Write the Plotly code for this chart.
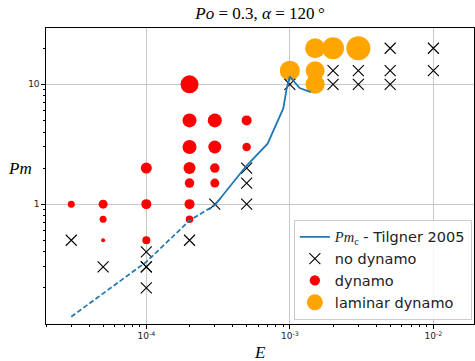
import numpy as np
import plotly.graph_objects as go

# ---------------- data ----------------
# dynamo runs (red)
dyn_E = [3e-5, 5e-5, 5e-5, 5e-5, 1e-4, 1e-4, 1e-4,
         2e-4, 2e-4, 2e-4, 2e-4, 2e-4, 2e-4, 2e-4,
         3e-4, 3e-4, 3e-4, 3e-4, 5e-4, 5e-4]
dyn_Pm = [1.0, 1.0, 0.75, 0.5, 2.0, 1.0, 0.5,
          10.0, 5.0, 3.0, 2.0, 1.5, 1.0, 0.75,
          5.0, 3.0, 2.0, 1.5, 5.0, 3.0]
dyn_size = [7, 9, 7, 4, 11, 10, 8,
            18, 14, 14, 12, 9.5, 10, 7.5,
            14, 13, 9.5, 9, 10, 8.5]

# no dynamo runs (crosses)
nod_E = [3e-5, 5e-5, 1e-4, 1e-4, 1e-4, 1e-4, 2e-4, 3e-4, 5e-4, 5e-4, 5e-4,
         1e-3, 2e-3, 2e-3, 3e-3, 3e-3, 5e-3, 5e-3, 5e-3, 1e-2, 1e-2]
nod_Pm = [0.5, 0.3, 0.4, 0.3, 0.3, 0.2, 0.5, 1.0, 1.0, 1.5, 2.0,
          10.0, 10.0, 13.0, 10.0, 13.0, 10.0, 13.0, 20.0, 13.0, 20.0]

# laminar dynamo runs (orange)
lam_E = [1e-3, 1.5e-3, 1.5e-3, 1.5e-3, 2e-3, 3e-3]
lam_Pm = [13.0, 20.0, 13.0, 10.0, 20.0, 20.0]
lam_size = [20, 20, 19, 19, 22, 24]

# critical Pm curve (Tilgner 2005)
crit_dash_E = [3e-5, 5e-5, 1e-4, 2e-4, 3e-4]
crit_dash_Pm = [0.115, 0.18, 0.33, 0.73, 0.98]
crit_E = [3e-4, 5e-4, 7e-4, 9e-4, 9.5e-4, 1e-3, 1.17e-3, 1.4e-3]
crit_Pm = [0.98, 2.1, 3.2, 6.3, 9.2, 11.6, 9.3, 8.6]

x_major = [1e-4, 1e-3, 1e-2]
x_major_text = ["10<sup>-4</sup>", "10<sup>-3</sup>", "10<sup>-2</sup>"]
y_major = [1, 10]
y_major_text = ["1", "10"]

# ---------------- figure ----------------
W, H = 475, 361
L, R, T, B = 46, 1, 28, 37
pw, ph = W - L - R, H - T - B

blue = "#1f77b4"
serif = "Liberation Serif"
sans = "DejaVu Sans"

fig = go.Figure()

fig.add_trace(go.Scatter(x=lam_E, y=lam_Pm, mode="markers", name="laminar dynamo",
                         marker=dict(color="orange", size=lam_size, opacity=1, line=dict(width=0)),
                         legendrank=4))
fig.add_trace(go.Scatter(x=dyn_E, y=dyn_Pm, mode="markers", name="dynamo",
                         marker=dict(color="red", size=dyn_size, opacity=1, line=dict(width=0)),
                         legendrank=3))
fig.add_trace(go.Scatter(x=nod_E, y=nod_Pm, mode="markers", name="no dynamo",
                         marker=dict(symbol="x-thin", color="black", size=11, opacity=1,
                                     line=dict(color="black", width=1.1)),
                         legendrank=2))
fig.add_trace(go.Scatter(x=crit_dash_E, y=crit_dash_Pm, mode="lines", showlegend=False,
                         line=dict(color=blue, width=1.7, dash="5px,2.5px")))
fig.add_trace(go.Scatter(x=crit_E, y=crit_Pm, mode="lines",
                         name='<span style="font-family:Liberation Serif"><i>Pm</i><sub>c</sub></span> - Tilgner 2005',
                         line=dict(color=blue, width=1.8), legendrank=1))

x_minor = [m * 10.0 ** d for d in (-5, -4, -3, -2) for m in range(2, 10)]
x_minor = [v for v in x_minor if 2e-5 <= v <= 1.9e-2]
y_minor = [m * 10.0 ** d for d in (-1, 0, 1) for m in range(2, 10)]
y_minor = [v for v in y_minor if v <= 29]

fig.update_xaxes(type="log", range=[np.log10(2e-5), -1.717],
                 tickmode="array", tickvals=x_major, ticktext=x_major_text,
                 ticks="outside", ticklen=3.5, tickwidth=1, tickcolor="black",
                 tickfont=dict(family=sans, size=9, color="#222"),
                 showgrid=True, gridcolor="#c8c8c8", gridwidth=1.2,
                 showline=True, linecolor="black", linewidth=1.2, mirror=True,
                 zeroline=False,
                 minor=dict(tickmode="array", tickvals=x_minor, ticks="outside",
                            ticklen=2, tickcolor="black", showgrid=False))
fig.update_yaxes(type="log", range=[-1, 1.47],
                 tickmode="array", tickvals=y_major, ticktext=y_major_text,
                 ticks="outside", ticklen=3.5, tickwidth=1, tickcolor="black",
                 tickfont=dict(family=sans, size=9, color="#222"),
                 showgrid=True, gridcolor="#c8c8c8", gridwidth=1.2,
                 showline=True, linecolor="black", linewidth=1.2, mirror=True,
                 zeroline=False,
                 minor=dict(tickmode="array", tickvals=y_minor, ticks="outside",
                            ticklen=2, tickcolor="black", showgrid=False))

fig.update_layout(
    width=W, height=H,
    margin=dict(l=L, r=R, t=T, b=B),
    paper_bgcolor="white", plot_bgcolor="white",
    title=dict(text="<i>Po</i> = 0.3, <i>α</i> = 120\u2009°",
               x=(L + pw / 2) / W, xanchor="center", y=1 - 13 / H, yanchor="middle",
               font=dict(family=serif, size=17, color="black")),
    legend=dict(x=0.995, y=0.014, xanchor="right", yanchor="bottom",
                bgcolor="rgba(255,255,255,0.85)", bordercolor="#cccccc", borderwidth=1,
                font=dict(family=sans, size=14.5, color="#222"),
                traceorder="normal"),
    showlegend=True,
    annotations=[
        dict(text="<i>Pm</i>", xref="paper", yref="paper", x=(20 - L) / pw, y=(H - B - 168) / ph,
             showarrow=False, font=dict(family=serif, size=17, color="black"),
             xanchor="center", yanchor="middle"),
        dict(text="<i>E</i>", xref="paper", yref="paper", x=(260 - L) / pw, y=(H - B - 352) / ph,
             showarrow=False, font=dict(family=serif, size=17, color="black"),
             xanchor="center", yanchor="middle"),
    ],
)

fig.write_html("out.html")
